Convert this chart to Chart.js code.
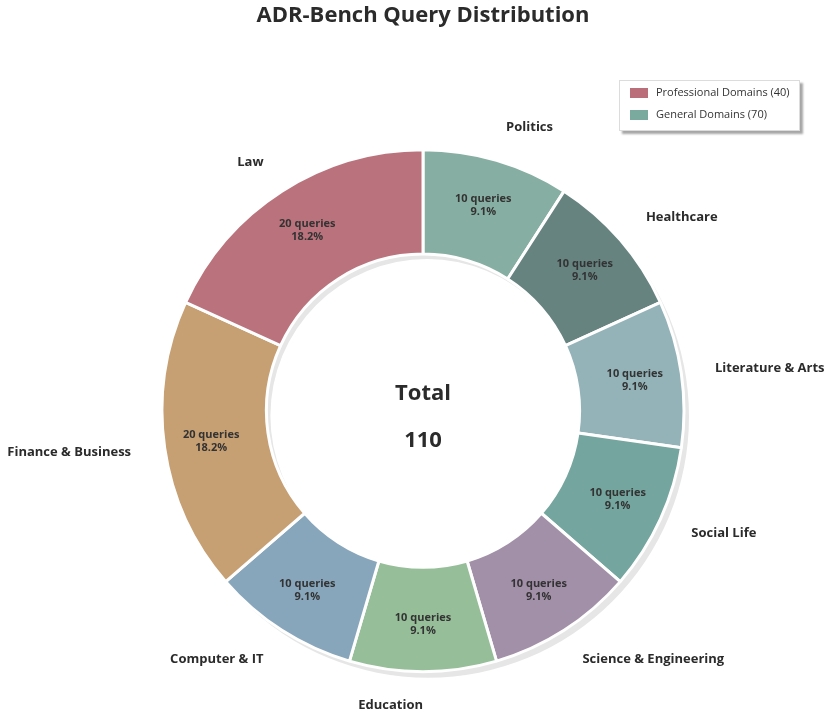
<!DOCTYPE html>
<html>
<head>
<meta charset="utf-8">
<script src="https://cdn.jsdelivr.net/npm/chart.js@4.4.1/dist/chart.umd.min.js"></script>
<style>
  html, body { margin: 0; padding: 0; background: #fff; }
  #wrap { width: 825px; height: 713px; }
</style>
</head>
<body>
<div id="wrap"><canvas id="chart" width="825" height="713"></canvas></div>
<script>
// categories go clockwise from the top
const categories = ['Politics', 'Healthcare', 'Literature & Arts', 'Social Life', 'Science & Engineering',
  'Education', 'Computer & IT', 'Finance & Business', 'Law'];
const queries = [10, 10, 10, 10, 10, 10, 10, 20, 20];
const sliceColors = ['#86AEA2', '#668380', '#94B3B8', '#74A59E', '#A28FA8',
  '#96BE99', '#87A6BB', '#C69F73', '#BA737D'];
const legendLabels = ['Professional Domains (40)', 'General Domains (70)'];
const legendColors = ['#BA6E7A', '#7AAA9D'];

const FONT = '"Open Sans", "Noto Sans", sans-serif';
const total = queries.reduce((a, b) => a + b, 0);

// grey offset copy of the ring, drawn under the slices
const shadowPlugin = {
  id: 'ringShadow',
  beforeDatasetsDraw(chart) {
    const arc = chart.getDatasetMeta(0).data[0];
    if (!arc) return;
    const ctx = chart.ctx;
    const ox = 5, oy = 6;
    ctx.save();
    ctx.fillStyle = '#e6e6e6';
    ctx.beginPath();
    ctx.arc(arc.x + ox, arc.y + oy, arc.outerRadius, 0, Math.PI * 2);
    ctx.arc(arc.x + ox - 1, arc.y + oy - 1, arc.innerRadius, 0, Math.PI * 2, true);
    ctx.fill();
    ctx.restore();
  }
};

// outside names, inside counts, centre total, legend box
const labelPlugin = {
  id: 'sliceLabels',
  afterDatasetsDraw(chart) {
    const ctx = chart.ctx;
    const meta = chart.getDatasetMeta(0);
    ctx.save();
    meta.data.forEach((arc, i) => {
      const mid = (arc.startAngle + arc.endAngle) / 2;
      const R = arc.outerRadius;
      const cx = Math.cos(mid), cy = Math.sin(mid);

      // name outside
      const lx = arc.x + cx * R * 1.13;
      const ly = arc.y + cy * R * 1.13;
      ctx.font = 'bold 13px ' + FONT;
      ctx.fillStyle = '#2b2b2b';
      ctx.textBaseline = 'middle';
      ctx.textAlign = cx > 0.001 ? 'left' : 'right';
      ctx.fillText(categories[i], lx, ly);

      // count + percent inside
      const ix = arc.x + cx * R * 0.82;
      const iy = arc.y + cy * R * 0.82;
      ctx.font = 'bold 11px ' + FONT;
      ctx.fillStyle = '#333';
      ctx.textAlign = 'center';
      const pct = (queries[i] / total * 100).toFixed(1) + '%';
      ctx.fillText(queries[i] + ' queries', ix, iy - 6.5);
      ctx.fillText(pct, ix, iy + 6.5);
    });

    const c = meta.data[0];
    ctx.font = 'bold 22px ' + FONT;
    ctx.fillStyle = '#2b2b2b';
    ctx.textAlign = 'center';
    ctx.textBaseline = 'middle';
    ctx.fillText('Total', c.x, c.y - 17);
    ctx.fillText(String(total), c.x, c.y + 30);
    ctx.restore();
  },
  afterDraw(chart) {
    const ctx = chart.ctx;
    const bx = 619, by = 80, bw = 181, bh = 51;
    ctx.save();
    ctx.shadowColor = 'rgba(0,0,0,0.35)';
    ctx.shadowOffsetX = 3;
    ctx.shadowOffsetY = 3;
    ctx.shadowBlur = 2;
    ctx.fillStyle = '#fff';
    ctx.fillRect(bx, by, bw, bh);
    ctx.shadowColor = 'transparent';
    ctx.strokeStyle = '#dcdcdc';
    ctx.lineWidth = 1;
    ctx.strokeRect(bx + 0.5, by + 0.5, bw - 1, bh - 1);
    ctx.font = '11px ' + FONT;
    ctx.textAlign = 'left';
    ctx.textBaseline = 'middle';
    legendLabels.forEach((t, i) => {
      const y = by + 13 + i * 22;
      ctx.fillStyle = legendColors[i];
      ctx.fillRect(bx + 11, y - 5, 18, 10);
      ctx.fillStyle = '#333';
      ctx.fillText(t, bx + 37, y);
    });
    ctx.restore();
  }
};

new Chart(document.getElementById('chart'), {
  type: 'doughnut',
  data: {
    labels: categories,
    datasets: [{
      data: queries,
      backgroundColor: sliceColors,
      borderColor: '#fff',
      borderWidth: 3,
      hoverOffset: 0
    }]
  },
  options: {
    responsive: false,
    animation: false,
    rotation: 0,
    cutout: '60%',
    radius: 261,
    layout: { padding: { left: 21, right: 0, top: 0, bottom: 0 } },
    plugins: {
      legend: { display: false },
      tooltip: { enabled: false },
      title: {
        display: true,
        text: 'ADR-Bench Query Distribution',
        color: '#2b2b2b',
        font: { family: FONT, size: 22, weight: 'bold', lineHeight: 1.2 },
        padding: { top: 3, bottom: 79 }
      }
    }
  },
  plugins: [shadowPlugin, labelPlugin]
});
</script>
</body>
</html>
